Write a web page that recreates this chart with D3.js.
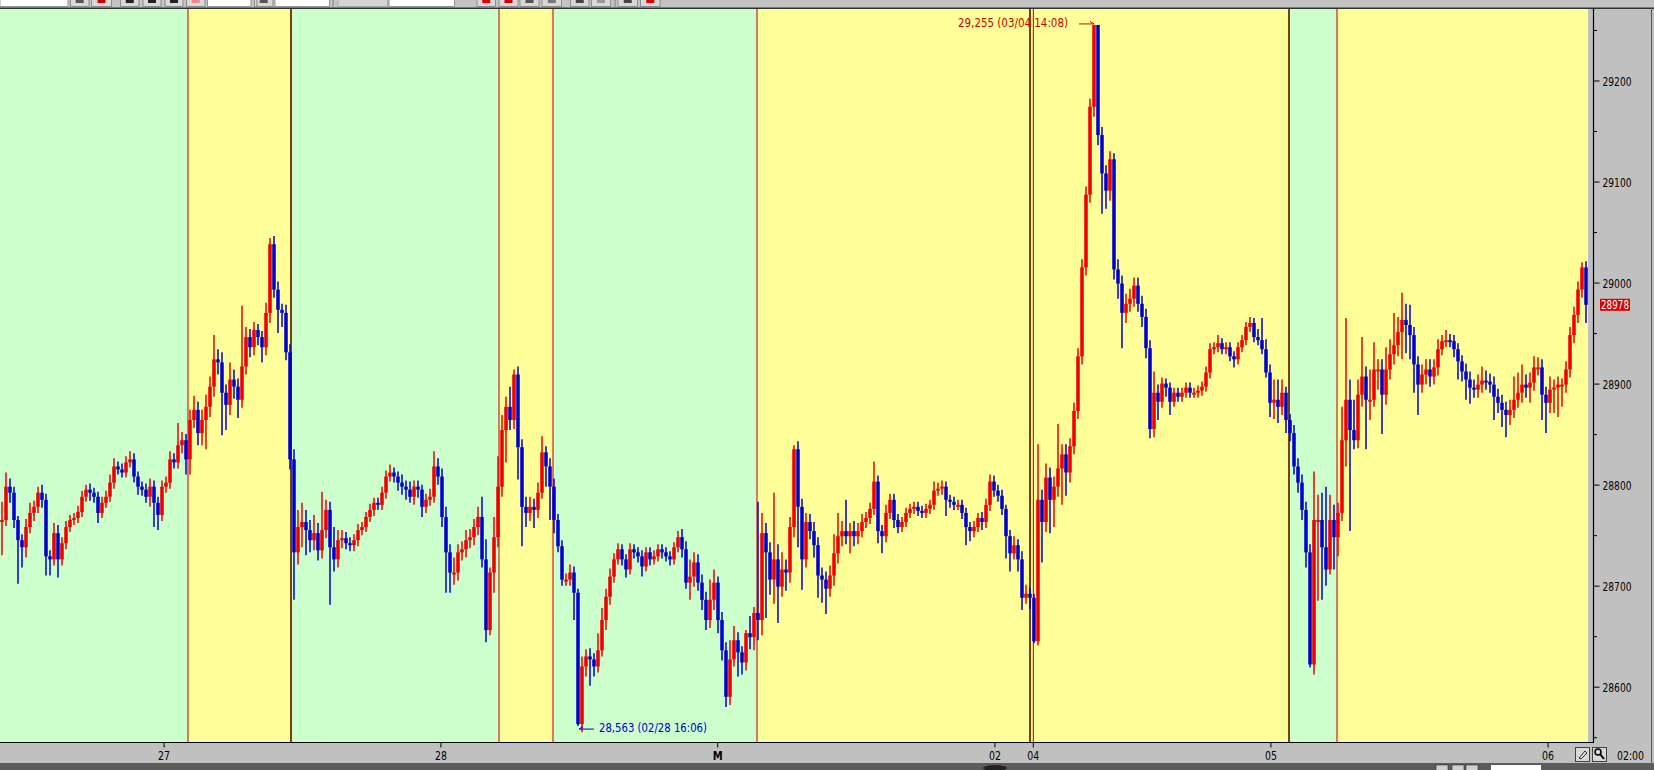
<!DOCTYPE html>
<html><head><meta charset="utf-8">
<script src="https://cdn.jsdelivr.net/npm/d3@7"></script>
<style>html,body{margin:0;padding:0;background:#c0c0c0;overflow:hidden}svg{display:block}</style>
</head><body><svg id="c" width="1654" height="770"></svg>
<script>
// ---- DATA ----
const closes = [
28765,28798,28792,28765,28745,28738,28758,28772,28778,28792,
28785,28729,28726,28752,28726,28742,28758,28765,28767,28773,
28788,28795,28792,28788,28772,28782,28788,28802,28818,28815,
28812,28822,28825,28808,28798,28795,28788,28798,28782,28770,
28798,28802,28825,28822,28839,28844,28825,28864,28874,28851,
28864,28877,28897,28924,28921,28891,28879,28904,28897,28884,
28917,28946,28936,28953,28946,28936,28970,29038,28993,28973,
28970,28931,28825,28733,28758,28763,28755,28745,28752,28735,
28755,28775,28738,28726,28745,28747,28742,28740,28745,28755,
28758,28768,28775,28782,28780,28792,28808,28812,28808,28802,
28798,28795,28788,28798,28795,28778,28785,28788,28818,28808,
28768,28733,28713,28713,28733,28736,28745,28748,28758,28768,
28726,28656,28713,28748,28798,28854,28877,28864,28909,28837,
28778,28772,28778,28775,28792,28832,28818,28798,28765,28739,
28706,28706,28713,28693,28563,28620,28630,28627,28620,28636,
28666,28689,28709,28726,28736,28726,28716,28736,28733,28729,
28719,28733,28726,28729,28736,28733,28729,28726,28738,28748,
28736,28703,28709,28723,28703,28686,28666,28686,28703,28666,
28636,28590,28627,28646,28634,28624,28653,28649,28673,28666,
28752,28733,28706,28726,28699,28716,28713,28758,28835,28778,
28726,28763,28754,28740,28710,28706,28697,28710,28732,28749,
28754,28749,28754,28749,28754,28763,28767,28776,28803,28754,
28749,28772,28785,28765,28758,28763,28772,28776,28778,28774,
28772,28776,28780,28794,28796,28798,28785,28783,28780,28780,
28772,28758,28754,28758,28767,28763,28780,28803,28794,28789,
28776,28749,28732,28740,28726,28688,28692,28688,28645,28785,
28763,28807,28785,28798,28816,28830,28812,28838,28873,28927,
29015,29087,29174,29255,29146,29108,29091,29122,29013,28999,
28970,28979,28984,28997,28979,28966,28935,28855,28891,28882,
28900,28896,28882,28891,28887,28891,28896,28891,28891,28893,
28897,28911,28934,28936,28940,28934,28936,28927,28924,28936,
28943,28956,28960,28946,28943,28934,28911,28881,28884,28877,
28891,28864,28851,28818,28802,28775,28733,28622,28765,28765,
28738,28716,28765,28748,28772,28844,28884,28854,28844,28889,
28907,28884,28884,28914,28914,28889,28914,28929,28938,28951,
28963,28958,28948,28919,28899,28909,28914,28907,28916,28934,
28942,28943,28942,28934,28922,28912,28904,28896,28894,28899,
28903,28902,28899,28887,28881,28874,28869,28874,28884,28891,
28899,28896,28901,28916,28916,28889,28881,28894,28896,28899,
28899,28914,28948,28968,28993,29015,28978
];
// upper / lower shadow length of each bar, in points
const wickUp = [
18,14,8,6,4,6,8,10,6,6,  8,6,6,10,8,6,6,5,5,6,  6,5,6,5,5,6,6,8,8,5,  6,6,8,6,5,5,6,8,6,6,
6,6,8,6,22,8,6,10,14,8,  10,12,10,24,10,10,8,17,10,8,  60,10,8,8,6,6,10,6,8,8,  6,8,8,10,17,19,12,10,18,10,
38,10,8,20,10,8,6,6,6,6,  5,5,6,5,5,6,6,8,5,5,  8,6,8,6,6,5,6,8,15,8,  8,10,8,15,8,8,10,8,8,10,
20,20,5,20,30,15,10,20,5,8,  8,10,10,8,10,16,6,8,8,6,  6,6,8,6,4,10,7,8,6,17,  12,8,8,6,6,5,5,6,5,5,
6,5,5,6,5,5,5,5,5,6,  8,8,17,10,8,8,8,20,13,6,  8,8,19,14,8,6,3,17,6,110,  20,10,10,66,15,17,10,10,4,8,
8,9,8,9,8,8,8,10,19,23,  10,31,8,10,8,8,6,6,20,6,  6,8,6,6,6,5,5,5,5,5,  5,5,5,9,6,6,5,5,5,5,
5,5,5,6,5,6,6,7,6,6,  6,4,6,9,6,8,9,6,4,55,  10,14,10,10,44,10,10,8,8,8,  8,8,8,0,0,8,8,8,6,10,
8,10,10,8,8,8,8,8,21,8,  6,5,5,5,5,5,5,5,5,5,  5,6,6,5,8,5,5,5,5,5,  5,5,6,5,8,22,10,8,20,20,
13,6,6,8,8,8,8,8,48,25,  27,60,25,15,10,33,81,20,30,15,  39,10,30,27,10,10,22,15,32,15,  27,16,20,8,8,10,10,10,8,10,
6,10,6,6,6,6,8,8,8,10,  14,10,8,8,8,8,8,10,23,20,  20,10,10,11,10,8,8,13,8,8,  6,8,8,8,8,5,6
];
const wickDn = [
35,6,10,8,43,20,10,6,8,6,  8,19,16,6,18,6,6,5,5,5,  5,5,8,6,10,5,5,5,6,5,  5,5,5,6,8,6,6,10,24,15,
6,6,6,6,6,8,15,15,8,12,  12,29,10,10,12,42,25,10,12,18,  8,8,10,8,8,15,8,10,8,23,  14,8,10,47,12,20,25,12,10,10,
8,8,57,12,8,8,6,6,6,6,  5,5,5,6,5,5,6,5,6,8,  8,10,6,8,8,10,6,6,6,8,  10,40,20,12,8,8,8,8,8,8,
8,12,5,20,10,10,32,10,9,32,  39,14,8,18,8,6,20,33,13,6,  6,6,6,27,2,8,10,26,10,6,  6,10,8,6,5,6,8,5,6,6,
10,5,6,5,5,6,5,6,5,5,  8,6,17,10,8,10,10,8,10,13,  10,10,8,7,24,12,8,12,13,20,  15,65,15,24,36,10,18,10,10,40,
30,8,8,12,22,23,25,8,10,10,  10,8,17,10,8,6,6,6,6,12,  17,6,6,8,6,5,5,5,5,5,  5,5,5,5,5,6,16,6,5,5,
6,18,10,6,5,8,6,6,6,6,  6,22,18,6,12,12,6,11,2,4,  40,10,33,27,10,36,23,10,8,8,  8,8,8,10,10,40,18,10,10,15,
35,10,8,8,8,10,10,9,8,18,  6,9,13,5,5,5,5,5,5,5,  5,5,6,5,5,5,5,5,8,5,  5,5,5,5,5,5,5,14,16,16,
8,13,8,8,10,10,15,3,10,80,  52,16,5,32,19,8,26,100,9,8,  12,49,20,7,20,39,10,10,10,11,  27,28,24,28,30,8,10,10,8,8,
6,6,6,8,18,10,20,16,8,8,  8,8,8,23,10,17,22,10,8,8,  10,10,15,8,8,25,30,10,23,29,  22,8,8,8,8,8,18
];
// session boundaries in bar units, and their kinds
const sessionBounds = [0, 47, 72.75, 124.75, 138.25, 189.25, 322.25, 334.25, 397];
const sessionKinds  = ['night','day','night','day','night','day','night','day'];
const dividers      = [47, 72.75, 124.75, 138.25, 189.25, 257.5, 258.35, 322.25, 334.25];
const dividerKinds  = ['red','brown','red','red','red','brown','red','brown','red'];
// x tick labels (bar position of each date mark)
const xTickAt     = [40.9, 110.1, 179.3, 248.6, 258.2, 317.6, 386.9];
const xTickLabels = ['27', '28', 'M', '02', '04', '05', '06'];
const yMajor = [28600, 28700, 28800, 28900, 29000, 29100, 29200];
const yMinor = [28550, 28650, 28750, 28850, 28950, 29050, 29150, 29250];
const highNote = {bar: 273, value: 29255, text: '29,255 (03/04 14:08)'};
const lowNote  = {bar: 144, value: 28563, text: '28,563 (02/28 16:06)'};
const lastPrice = 28978;

// ---- DRAW ----
const W = 1654, H = 770;
const plotR = 1588, plotT = 9, plotB = 742, axisX = 1593;
const svg = d3.select('#c');
const FONT = "'DejaVu Sans Condensed','Liberation Sans Narrow','Liberation Sans',Arial,sans-serif";

svg.append('rect').attr('width', W).attr('height', H).attr('fill', '#c0c0c0');

const xs = d3.scaleLinear().domain([0, closes.length]).range([0, plotR]);
const ys = d3.scaleLinear().domain([28600, 29200]).range([686.7, 80.5]);

const defs = svg.append('defs');
defs.append('clipPath').attr('id', 'pc').append('rect')
  .attr('x', 0).attr('y', plotT).attr('width', plotR).attr('height', plotB - plotT);

const plot = svg.append('g').attr('clip-path', 'url(#pc)');

// session backgrounds
const bgColor = {night: '#ccffcc', day: '#ffff99'};
plot.selectAll('rect.sess').data(sessionKinds).join('rect')
  .attr('class', 'sess')
  .attr('x', (d, i) => xs(sessionBounds[i]))
  .attr('width', (d, i) => xs(sessionBounds[i + 1]) - xs(sessionBounds[i]))
  .attr('y', plotT).attr('height', plotB - plotT)
  .attr('fill', d => bgColor[d]);

// dividers
plot.selectAll('line.div').data(dividers).join('line')
  .attr('class', 'div')
  .attr('x1', d => xs(d)).attr('x2', d => xs(d))
  .attr('y1', plotT).attr('y2', plotB)
  .attr('stroke', (d, i) => dividerKinds[i] === 'red' ? '#cc2222' : '#7a4010')
  .attr('stroke-width', (d, i) => dividerKinds[i] === 'red' ? 1.2 : 2);

// candles: open = previous close
const bars = closes.map((c, i) => {
  const o = i === 0 ? c : closes[i - 1];
  return {i, o, c, h: Math.max(o, c) + wickUp[i], l: Math.min(o, c) - wickDn[i]};
});
const bw = xs(1) - xs(0);
const upCol = '#ee0000', dnCol = '#0000cc';
plot.selectAll('line.wk').data(bars).join('line')
  .attr('class', 'wk')
  .attr('x1', d => xs(d.i + 0.5)).attr('x2', d => xs(d.i + 0.5))
  .attr('y1', d => ys(d.h)).attr('y2', d => ys(d.l))
  .attr('stroke', d => d.c >= d.o ? upCol : dnCol).attr('stroke-width', 1.5);
plot.selectAll('rect.bar').data(bars).join('rect')
  .attr('class', 'bar')
  .attr('x', d => xs(d.i) + bw * 0.06)
  .attr('width', bw * 0.88)
  .attr('y', d => ys(Math.max(d.o, d.c)))
  .attr('height', d => Math.max(2, Math.abs(ys(d.o) - ys(d.c))))
  .attr('fill', d => d.c >= d.o ? upCol : dnCol);

// annotations
const hx = xs(highNote.bar + 0.5), hy = ys(highNote.value);
svg.append('path').attr('d', `M${hx - 15},${hy - 1}L${hx},${hy - 1}L${hx - 4},${hy - 3.5}`)
  .attr('fill', 'none').attr('stroke', '#dd0000').attr('stroke-width', 1);
svg.append('text').attr('x', hx - 136).attr('y', 27)
  .attr('font-family', FONT).attr('font-size', 12.5).attr('fill', '#cc0000')
  .attr('textLength', 110).attr('lengthAdjust', 'spacingAndGlyphs').text(highNote.text);

const lx = xs(lowNote.bar + 0.5), ly = ys(lowNote.value);
svg.append('path').attr('d', `M${lx + 16},${ly + 5}L${lx + 1},${ly + 5}L${lx + 5},${ly + 2.5}`)
  .attr('fill', 'none').attr('stroke', '#0000cc').attr('stroke-width', 1);
svg.append('text').attr('x', lx + 21).attr('y', ly + 7.5)
  .attr('font-family', FONT).attr('font-size', 12.5).attr('fill', '#0000cc')
  .attr('textLength', 108).attr('lengthAdjust', 'spacingAndGlyphs').text(lowNote.text);

// frame lines
svg.append('line').attr('x1', 0).attr('x2', W).attr('y1', 8).attr('y2', 8).attr('stroke', '#000').attr('stroke-width', 1.5);
svg.append('line').attr('x1', 0).attr('x2', axisX).attr('y1', plotB + 0.5).attr('y2', plotB + 0.5).attr('stroke', '#000').attr('stroke-width', 1.2);
svg.append('line').attr('x1', axisX + 0.5).attr('x2', axisX + 0.5).attr('y1', 8).attr('y2', plotB + 1).attr('stroke', '#000').attr('stroke-width', 1.2);
svg.append('line').attr('x1', W - 2.5).attr('x2', W - 2.5).attr('y1', 8).attr('y2', 763).attr('stroke', '#555').attr('stroke-width', 1);

// right axis
const yAx = svg.append('g').attr('transform', `translate(${axisX + 0.5},0)`)
  .call(d3.axisRight(ys).tickValues(yMajor).tickSize(6).tickPadding(3).tickFormat(d3.format('d')));
yAx.select('.domain').remove();
yAx.selectAll('line').attr('stroke', '#000');
yAx.selectAll('text').attr('font-family', FONT).attr('font-size', 13).attr('fill', '#000')
  .attr('x', 9).attr('dy', '0.36em').attr('textLength', 29).attr('lengthAdjust', 'spacingAndGlyphs');
const yMin = svg.append('g').attr('transform', `translate(${axisX + 0.5},0)`)
  .call(d3.axisRight(ys).tickValues(yMinor).tickSize(3.5).tickFormat(''));
yMin.select('.domain').remove();
yMin.selectAll('line').attr('stroke', '#000');

// last price box
const lpy = ys(lastPrice);
svg.append('rect').attr('x', 1600).attr('y', lpy - 6).attr('width', 30).attr('height', 12).attr('fill', '#e00000');
svg.append('text').attr('x', 1601).attr('y', lpy + 4.5).attr('font-family', FONT).attr('font-size', 12.5)
  .attr('fill', '#fff').attr('textLength', 28).attr('lengthAdjust', 'spacingAndGlyphs').text(lastPrice);

// bottom axis
const xAx = svg.append('g').attr('transform', `translate(0,${plotB + 0.5})`)
  .call(d3.axisBottom(xs).tickValues(xTickAt).tickSize(5).tickPadding(3)
    .tickFormat((d, i) => xTickLabels[i]));
xAx.select('.domain').remove();
xAx.selectAll('line').attr('stroke', '#000');
xAx.selectAll('text').attr('font-family', FONT).attr('font-size', 13).attr('fill', '#000')
  .attr('y', 17.5).attr('dy', 0)
  .attr('font-weight', (d, i) => xTickLabels[i] === 'M' ? 'bold' : 'normal')
  .attr('textLength', (d, i) => xTickLabels[i] === 'M' ? 10 : 12).attr('lengthAdjust', 'spacingAndGlyphs');

// bottom-right buttons and time
[1575, 1592].forEach((bx, k) => {
  svg.append('rect').attr('x', bx + 0.5).attr('y', 747.5).attr('width', 14).attr('height', 14)
    .attr('fill', '#d8d8d8').attr('stroke', '#404040').attr('stroke-width', 1);
  if (k === 0) {
    svg.append('path').attr('d', `M${bx + 4},${758}L${bx + 10},${751}L${bx + 12},${753}L${bx + 6},${759}Z`)
      .attr('fill', 'none').attr('stroke', '#000').attr('stroke-width', 0.8);
  } else {
    svg.append('circle').attr('cx', bx + 6).attr('cy', 752).attr('r', 3).attr('fill', 'none').attr('stroke', '#000').attr('stroke-width', 1.5);
    svg.append('line').attr('x1', bx + 8).attr('y1', 754).attr('x2', bx + 12).attr('y2', 759).attr('stroke', '#000').attr('stroke-width', 2);
  }
});
svg.append('text').attr('x', 1617).attr('y', 760).attr('font-family', FONT).attr('font-size', 13)
  .attr('fill', '#000').attr('textLength', 27).attr('lengthAdjust', 'spacingAndGlyphs').text('02:00');

// bottom dark status strip
svg.append('rect').attr('x', 0).attr('y', 763).attr('width', W).attr('height', 7).attr('fill', '#5c5c5c');
svg.append('rect').attr('x', 1491).attr('y', 765).attr('width', 50).attr('height', 6).attr('fill', '#fff');
[1436, 1452, 1466].forEach(bx => svg.append('rect').attr('x', bx).attr('y', 765).attr('width', 12).attr('height', 6)
  .attr('fill', '#d0d0d0').attr('stroke', '#333').attr('stroke-width', 0.6));
svg.append('ellipse').attr('cx', 995).attr('cy', 768).attr('rx', 12).attr('ry', 3).attr('fill', '#222');

// top toolbar (partially visible)
const tb = svg.append('g');
tb.append('rect').attr('x', 0).attr('y', 0).attr('width', W).attr('height', 7.5).attr('fill', '#c4c4c4');
const whiteBoxes = [[0, 68], [207.5, 251], [275, 329.5], [389, 454.5]];
whiteBoxes.forEach(([a, b]) => tb.append('rect').attr('x', a).attr('y', -2).attr('width', b - a).attr('height', 8.5)
  .attr('fill', '#fff').attr('stroke', '#808080').attr('stroke-width', 0.8));
tb.append('rect').attr('x', 338).attr('y', -2).attr('width', 49.5).attr('height', 8.5).attr('fill', '#d4d4d4').attr('stroke', '#a0a0a0').attr('stroke-width', 0.8);
const btns = [[70.5, 89, '#555'], [91.5, 111.6, '#c00'], [120.5, 139, '#222'], [143, 161, '#222'], [165, 183, '#222'],
  [186.6, 205, '#e88'], [254.5, 273, '#555'], [477, 495.5, '#d00'], [499, 518, '#c00'], [520, 539, '#555'],
  [542, 561.6, '#777'], [570.5, 589, '#444'], [591.5, 610.7, '#999'], [618, 637.5, '#444'], [640.6, 660, '#d00']];
btns.forEach(([a, b, c]) => {
  tb.append('rect').attr('x', a).attr('y', -2).attr('width', b - a).attr('height', 8.5)
    .attr('fill', '#d8d8d8').attr('stroke', '#7a7a7a').attr('stroke-width', 0.8);
  tb.append('rect').attr('x', (a + b) / 2 - 4).attr('y', 0).attr('width', 8).attr('height', 3).attr('fill', c);
});
[257, 333, 615].forEach(x => tb.append('line').attr('x1', x).attr('x2', x).attr('y1', 0).attr('y2', 7).attr('stroke', '#808080'));
</script></body></html>
